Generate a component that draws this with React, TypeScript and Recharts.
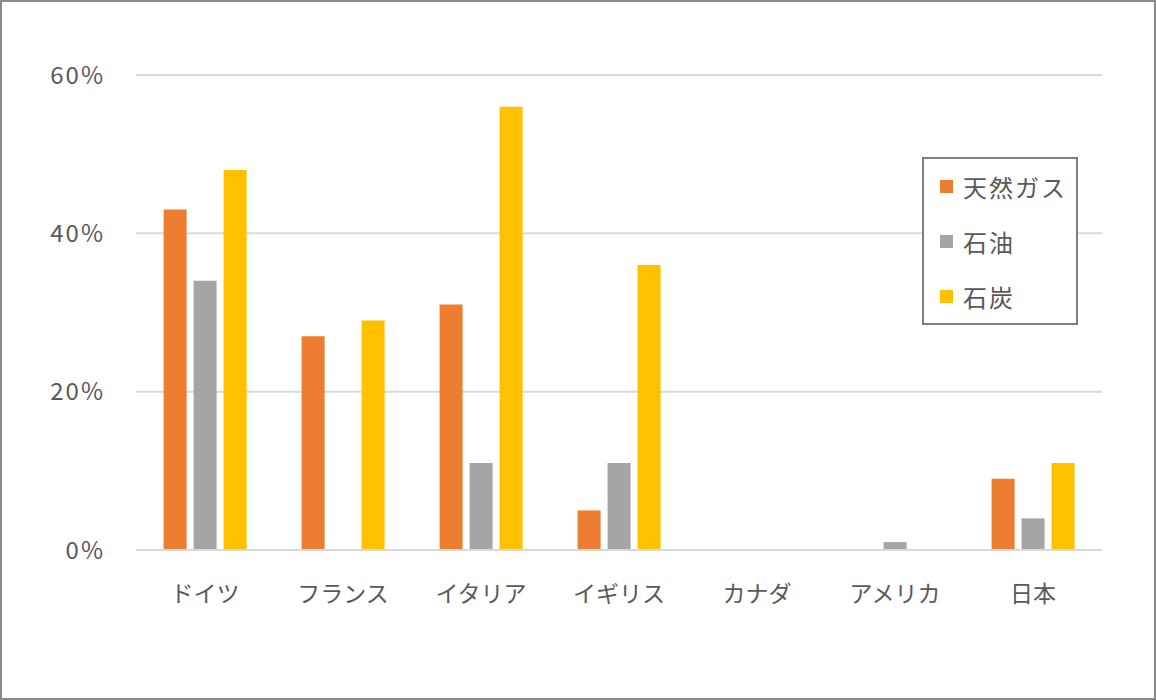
import React from "react";
import { BarChart, Bar, XAxis, YAxis, CartesianGrid } from "recharts";

const categories = ["ドイツ", "フランス", "イタリア", "イギリス", "カナダ", "アメリカ", "日本"];
const gasValues = [43, 27, 31, 5, 0, 0, 9];
const oilValues = [34, 0, 11, 11, 0, 1, 4];
const coalValues = [48, 29, 56, 36, 0, 0, 11];
const yTicks = [0, 20, 40, 60];
const seriesNames = ["天然ガス", "石油", "石炭"];
const seriesColors = ["#ED7D31", "#A5A5A5", "#FFC000"];

const data = categories.map((c, i) => ({
  name: c,
  gas: gasValues[i],
  oil: oilValues[i],
  coal: coalValues[i],
}));

const FONT = "'Noto Sans CJK JP', 'Noto Sans', sans-serif";

const LegendBox = () => (
  <div
    style={{
      position: "absolute",
      left: 922,
      top: 157,
      boxSizing: "border-box",
      width: 156,
      height: 168,
      border: "2px solid #7F7F7F",
      background: "#fff",
      fontFamily: FONT,
      paddingTop: 0,
    }}
  >
    {seriesNames.map((n, i) => (
      <div key={n} style={{ display: "flex", alignItems: "center", height: 55, paddingLeft: 16 }}>
        <span style={{ display: "inline-block", width: 13, height: 13, background: seriesColors[i], marginRight: 10 }} />
        <span style={{ fontSize: 24, color: "#595959", letterSpacing: 2, lineHeight: 1 }}>{n}</span>
      </div>
    ))}
  </div>
);

export default function App() {
  return (
    <div
      style={{
        position: "absolute",
        left: 0,
        top: 0,
        width: 1156,
        height: 700,
        boxSizing: "border-box",
        border: "2px solid #8A8A8A",
        background: "#fff",
      }}
    >
      <div style={{ position: "absolute", left: -2, top: -2 }}>
        <BarChart
          width={1156}
          height={700}
          data={data}
          margin={{ top: 75, right: 54, bottom: 100, left: 16 }}
          barCategoryGap="20%"
          barGap={7}
        >
          <CartesianGrid vertical={false} stroke="#D9D9D9" strokeWidth={2} />
          <XAxis
            dataKey="name"
            height={50}
            tickLine={false}
            tickSize={0}
            tickMargin={36}
            axisLine={{ stroke: "#D9D9D9", strokeWidth: 2 }}
            tick={{ fill: "#595959", fontSize: 23, fontFamily: FONT }}
            interval={0}
          />
          <YAxis
            width={120}
            domain={[0, 60]}
            ticks={yTicks}
            tickFormatter={(v) => `${v}%`}
            axisLine={false}
            tickLine={false}
            tickSize={0}
            tickMargin={31}
            tick={{ fill: "#595959", fontSize: 24, fontFamily: FONT, letterSpacing: 2 }}
          />
          <Bar dataKey="gas" name={seriesNames[0]} fill={seriesColors[0]} isAnimationActive={false} />
          <Bar dataKey="oil" name={seriesNames[1]} fill={seriesColors[1]} isAnimationActive={false} />
          <Bar dataKey="coal" name={seriesNames[2]} fill={seriesColors[2]} isAnimationActive={false} />
        </BarChart>
        <LegendBox />
      </div>
    </div>
  );
}
